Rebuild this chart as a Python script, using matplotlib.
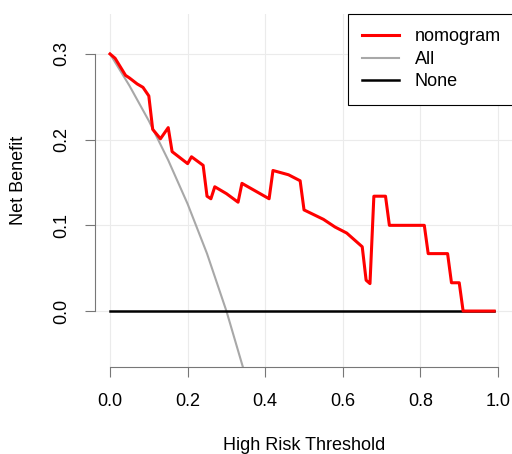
import matplotlib
matplotlib.use("Agg")
import matplotlib.pyplot as plt

plt.rcParams['font.family'] = ['Liberation Sans', 'DejaVu Sans']

# decision curve data
thresh = [0.00, 0.013, 0.04, 0.05, 0.07, 0.085, 0.10, 0.11, 0.13, 0.15, 0.16,
          0.20, 0.21, 0.24, 0.25, 0.26, 0.27, 0.30, 0.33, 0.34, 0.41, 0.42,
          0.46, 0.49, 0.50, 0.55, 0.58, 0.61, 0.65, 0.66, 0.67, 0.68, 0.71,
          0.72, 0.81, 0.82, 0.87, 0.88, 0.90, 0.91, 0.99]
nomogram = [0.300, 0.295, 0.275, 0.272, 0.265, 0.261, 0.251, 0.212, 0.201, 0.214, 0.186,
            0.172, 0.180, 0.170, 0.134, 0.131, 0.145, 0.137, 0.127, 0.149, 0.131, 0.164,
            0.159, 0.152, 0.118, 0.107, 0.098, 0.091, 0.075, 0.036, 0.032, 0.134, 0.134,
            0.100, 0.100, 0.067, 0.067, 0.033, 0.033, 0.000, 0.000]

all_t = [0.00, 0.05, 0.10, 0.15, 0.20, 0.25, 0.30, 0.35, 0.40]
all_nb = [0.300, 0.263, 0.222, 0.176, 0.125, 0.067, 0.000, -0.077, -0.167]

none_t = [0.0, 0.99]
none_nb = [0.0, 0.0]

xticks = [0.0, 0.2, 0.4, 0.6, 0.8, 1.0]
yticks = [0.0, 0.1, 0.2, 0.3]

W, H = 512, 454
fig = plt.figure(figsize=(W / 100, H / 100), dpi=100)
ax = fig.add_axes([95 / W, (H - 367) / H, (W - 95) / W, (367 - 14) / H])

ax.set_xlim(-0.0387, 1.036)
ax.set_ylim(-0.0653, 0.3466)

for x in xticks:
    ax.axvline(x, color='#EBEBEB', lw=0.8, zorder=0)
for y in yticks:
    ax.axhline(y, color='#EBEBEB', lw=0.8, zorder=0)

ax.plot(all_t, all_nb, color='#A8A8A8', lw=1.5, label='All', zorder=2)
ax.plot(none_t, none_nb, color='black', lw=1.8, label='None', zorder=3)
ax.plot(thresh, nomogram, color='#FF0000', lw=2.2, label='nomogram', zorder=4)

for s in ['top', 'right']:
    ax.spines[s].set_visible(False)
ax.spines['left'].set_bounds(0, 0.3)
ax.spines['bottom'].set_bounds(0, 1)
for s in ['left', 'bottom']:
    ax.spines[s].set_color('#777777')
    ax.spines[s].set_linewidth(0.8)

ax.set_xticks(xticks)
ax.set_xticklabels(['0.0', '0.2', '0.4', '0.6', '0.8', '1.0'])
ax.set_yticks(yticks)
ax.set_yticklabels(['0.0', '0.1', '0.2', '0.3'], rotation=90, va='center')
ax.tick_params(axis='both', length=7.5, width=0.8, color='#777777', labelsize=13)
ax.tick_params(axis='x', pad=11)
ax.tick_params(axis='y', pad=10)

fig.text(304 / W, 1 - 445 / H, 'High Risk Threshold', ha='center', va='center', fontsize=13)
fig.text(19 / W, 1 - 180 / H, 'Net Benefit', ha='center', va='center', rotation=90, fontsize=13)

h, l = ax.get_legend_handles_labels()
order = [2, 0, 1]
leg = ax.legend([h[i] for i in order], [l[i] for i in order],
                loc='upper left', bbox_to_anchor=(348 / W, 1 - 14 / H),
                bbox_transform=fig.transFigure, borderaxespad=0,
                fancybox=False, framealpha=1, edgecolor='black',
                fontsize=13, handlelength=2.0, handletextpad=0.9,
                borderpad=0.8, labelspacing=0.3)
leg.get_frame().set_linewidth(0.8)

fig.savefig('out.png', dpi=100)
